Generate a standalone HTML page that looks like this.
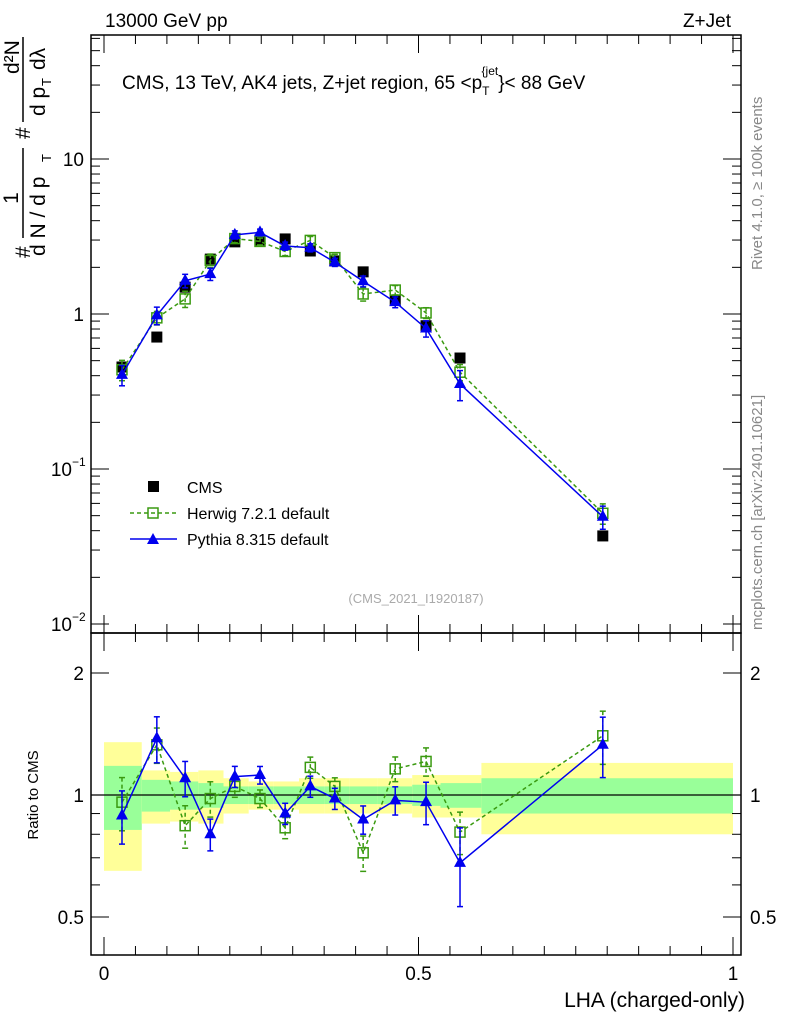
<!DOCTYPE html>
<html><head><meta charset="utf-8"><style>
body{margin:0;background:#fff;}
svg text{font-family:"Liberation Sans",sans-serif;}
</style></head><body>
<svg id="c" width="786" height="1024" viewBox="0 0 786 1024" xmlns="http://www.w3.org/2000/svg">
<text x="105" y="27" font-size="19">13000 GeV pp</text>
<text x="731" y="27" font-size="19" text-anchor="end">Z+Jet</text>
<text x="122" y="89" font-size="19">CMS, 13 TeV, AK4 jets, Z+jet region, 65 &lt;p<tspan font-size="12" dy="6">T</tspan><tspan font-size="12" dy="-20" dx="-8">{jet</tspan><tspan dy="14">}&lt; 88 GeV</tspan></text>
<g transform="translate(0,270) rotate(-90)" font-size="21">
<text x="12" y="30">#</text>
<line x1="32" y1="23" x2="122" y2="23" stroke="#000" stroke-width="1.5"/>
<text x="72" y="18" text-anchor="middle">1</text>
<text x="14" y="45">d N / d p</text><text x="108" y="51" font-size="13">T</text>
<text x="131" y="30">#</text>
<line x1="148" y1="23" x2="233" y2="23" stroke="#000" stroke-width="1.5"/>
<text x="196" y="19">d²N</text>
<text x="154" y="45">d p</text><text x="184" y="51" font-size="13">T</text><text x="200" y="45">dλ</text>
</g>
<text transform="translate(762,270) rotate(-90)" font-size="15" fill="#888">Rivet 4.1.0, ≥ 100k events</text>
<text transform="translate(762,630) rotate(-90)" font-size="15" fill="#888">mcplots.cern.ch [arXiv:2401.10621]</text>
<text x="416" y="603" font-size="13" fill="#aaa" text-anchor="middle">(CMS_2021_I1920187)</text>
<text transform="translate(38,795) rotate(-90)" font-size="15" text-anchor="middle">Ratio to CMS</text>
<text x="745" y="1007" font-size="21" text-anchor="end">LHA (charged-only)</text>
<g id="bands"></g><g id="axes"></g><g id="marks"></g>
<g>
<rect x="148" y="481" width="11" height="11" fill="#000"/>
<text x="187" y="493" font-size="16">CMS</text>
<line x1="130" y1="513" x2="177" y2="513" stroke="#3a9a10" stroke-width="1.5" stroke-dasharray="4,3"/>
<rect x="148" y="508" width="10" height="10" fill="none" stroke="#3a9a10" stroke-width="1.5"/>
<text x="187" y="519" font-size="16">Herwig 7.2.1 default</text>
<line x1="130" y1="539" x2="177" y2="539" stroke="#0000ee" stroke-width="1.5"/>
<polygon points="153,533 159,544 147,544" fill="#0000ee"/>
<text x="187" y="545" font-size="16">Pythia 8.315 default</text>
</g>
</svg>
<script>
const xCenters=[0.0286,0.084,0.129,0.169,0.208,0.248,0.288,0.328,0.367,0.412,0.463,0.512,0.566,0.793];
const binEdges=[0,0.06,0.105,0.15,0.19,0.23,0.27,0.31,0.35,0.39,0.435,0.49,0.535,0.6,1.0];
const cmsVals=[0.455,0.71,1.49,2.26,2.92,3.0,3.05,2.55,2.2,1.87,1.23,0.84,0.52,0.037];
const herwigRatio=[0.96,1.33,0.84,0.98,1.05,0.98,0.83,1.17,1.05,0.72,1.16,1.21,0.81,1.40];
const pythiaRatio=[0.89,1.38,1.10,0.80,1.11,1.12,0.90,1.05,0.98,0.87,0.97,0.96,0.68,1.33];
const herwigErr=[0.15,0.1,0.12,0.1,0.06,0.05,0.06,0.06,0.05,0.1,0.07,0.08,0.12,0.15];
const pythiaErr=[0.15,0.13,0.1,0.09,0.06,0.05,0.06,0.06,0.06,0.08,0.08,0.12,0.22,0.17];
const bandGreen=[0.18,0.09,0.08,0.07,0.05,0.05,0.05,0.05,0.05,0.05,0.05,0.06,0.07,0.1];
const bandYellow=[0.35,0.15,0.14,0.15,0.1,0.08,0.08,0.1,0.1,0.1,0.1,0.12,0.12,0.2];
const xTicks=[0,0.5,1];const xTickLabels=["0","0.5","1"];
const NS="http://www.w3.org/2000/svg";
const X=v=>104+v*629;
const Y=v=>314-155*Math.log10(v);
const R=v=>795-122*Math.log2(v);
function mk(t,a,p){const e=document.createElementNS(NS,t);for(const k in a)e.setAttribute(k,a[k]);p.appendChild(e);return e;}
const bands=document.getElementById('bands'),axes=document.getElementById('axes'),marks=document.getElementById('marks');
for(let i=0;i<xCenters.length;i++){
 const x0=X(binEdges[i]),x1=X(binEdges[i+1]);
 const y=mk('rect',{x:x0,y:R(1+bandYellow[i]),width:x1-x0,height:R(1-bandYellow[i])-R(1+bandYellow[i]),fill:'#ffff99'},bands);
 
 
 const g=mk('rect',{x:x0,y:R(1+bandGreen[i]),width:x1-x0,height:R(1-bandGreen[i])-R(1+bandGreen[i]),fill:'#99ff99'},bands);
 
 
}
const f1=mk('rect',{x:91,y:35,width:650,height:598,fill:'none',stroke:'#000','stroke-width':1.5},axes);


const f2=mk('rect',{x:91,y:633,width:650,height:322,fill:'none',stroke:'#000','stroke-width':1.5},axes);


mk('line',{x1:91,y1:R(1),x2:741,y2:R(1),stroke:'#000','stroke-width':1.2},axes);
for(let d=-2;d<=1;d++)for(let m=1;m<10;m++){const v=m*Math.pow(10,d);const y=Y(v);if(y<35||y>633)continue;const L=m==1?18:9;
 mk('line',{x1:91,y1:y,x2:91+L,y2:y,stroke:'#000'},axes);mk('line',{x1:741,y1:y,x2:741-L,y2:y,stroke:'#000'},axes);}
[[10,"10"],[1,"1"]].forEach(a=>{const t=mk('text',{x:84,y:Y(a[0])+7,'font-size':19,'text-anchor':'end'},axes);t.textContent=a[1];});
[[0.1,"10"],[0.01,"10"]].forEach(a=>{const t=mk('text',{x:72,y:Y(a[0])+7,'font-size':19,'text-anchor':'end'},axes);t.textContent=a[1];
 const s=mk('text',{x:72,y:Y(a[0])-3,'font-size':12},axes);s.textContent=a[0]==0.1?"−1":"−2";});
[0.5,0.6,0.7,0.8,0.9,1,2].forEach(v=>{const y=R(v);const L=(v==1||v==2||v==0.5)?18:9;mk('line',{x1:91,y1:y,x2:91+L,y2:y,stroke:'#000'},axes);mk('line',{x1:741,y1:y,x2:741-L,y2:y,stroke:'#000'},axes);});
[[2,"2"],[1,"1"],[0.5,"0.5"]].forEach(a=>{const t=mk('text',{x:84,y:R(a[0])+7,'font-size':19,'text-anchor':'end'},axes);t.textContent=a[1];
 const t2=mk('text',{x:750,y:R(a[0])+7,'font-size':19},axes);t2.textContent=a[1];});
for(let i=0;i<=20;i++){const v=i*0.05;const L=i%10==0?18:9;const x=X(v);
 [[633,1],[35,-1],[955,1],[633,-1]].forEach(p=>mk('line',{x1:x,y1:p[0],x2:x,y2:p[0]-p[1]*L,stroke:'#000'},axes));}
xTicks.forEach((v,i)=>{const t=mk('text',{x:X(v),y:980,'font-size':19,'text-anchor':'middle'},axes);t.textContent=xTickLabels[i];});
function series(vals,errs,col,dash,kind,yf,name){
 const pts=vals.map((v,i)=>X(xCenters[i])+','+yf(v)).join(' ');
 const pl=mk('polyline',{points:pts,fill:'none',stroke:col,'stroke-width':1.5,'stroke-dasharray':dash},marks);
 
 
 vals.forEach((v,i)=>{const x=X(xCenters[i]);const y=yf(v);const y0=yf(v*(1+errs[i])),y1=yf(v*(1-errs[i]));
  mk('line',{x1:x,y1:y0,x2:x,y2:y1,stroke:col,'stroke-width':1.5,'stroke-dasharray':dash},marks);
  mk('line',{x1:x-3,y1:y0,x2:x+3,y2:y0,stroke:col,'stroke-width':1.5},marks);
  mk('line',{x1:x-3,y1:y1,x2:x+3,y2:y1,stroke:col,'stroke-width':1.5},marks);
  let m;
  if(kind=='sq'){m=mk('rect',{x:x-5,y:y-5,width:10,height:10,fill:'none',stroke:col,'stroke-width':1.5},marks);}
  else{m=mk('polygon',{points:`${x},${y-7} ${x+6},${y+4} ${x-6},${y+4}`,fill:col},marks);}
  
  
 });
}
const herwigVals=cmsVals.map((c,i)=>c*herwigRatio[i]);
const pythiaVals=cmsVals.map((c,i)=>c*pythiaRatio[i]);
cmsVals.forEach((v,i)=>{const r=mk('rect',{x:X(xCenters[i])-5.5,y:Y(v)-5.5,width:11,height:11,fill:'#000'},marks);
 
 });
series(herwigVals,herwigErr,'#3a9a10','4,3','sq',Y,'herwig');
series(pythiaVals,pythiaErr,'#0000ee','','tri',Y,'pythia');
series(herwigRatio,herwigErr,'#3a9a10','4,3','sq',R,'herwig-ratio');
series(pythiaRatio,pythiaErr,'#0000ee','','tri',R,'pythia-ratio');
</script>
</body></html>
